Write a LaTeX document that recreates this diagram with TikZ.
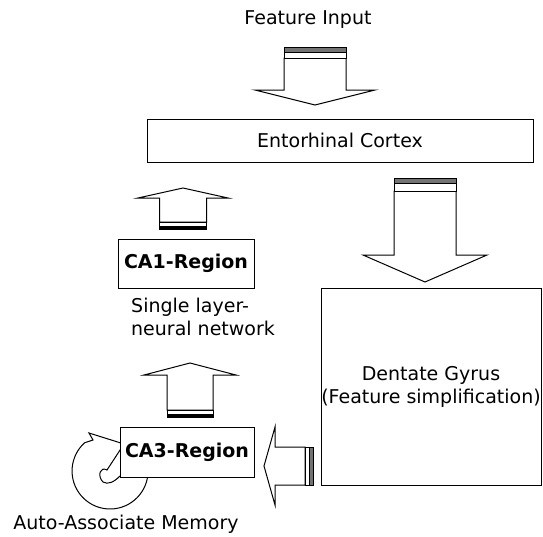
\documentclass[tikz,border=0pt]{standalone}
\usepackage{fontspec}
\setmainfont{DejaVu Sans}
\usetikzlibrary{calc}
\definecolor{bargray}{rgb}{0.45,0.45,0.45}

\tikzset{
  blockline/.style={line width=1pt,line join=miter},
  region/.style={draw,line width=0.8pt,fill=white,inner sep=0pt},
  label/.style={inner sep=0pt}
}

% tip, rotation, stem half width, head half width, head length, stem length, white band, bar, bar colour
\newcommand{\fatarrow}[9]{%
  \begin{scope}[shift={#1},rotate=#2]
    \draw[blockline,fill=white] (0,0) -- (-#5,#4) -- (-#5,#3) -- (-#5-#6,#3) -- (-#5-#6,-#3) -- (-#5,-#3) -- (-#5,-#4) -- cycle;
    \draw[blockline,fill=white] (-#5-#6,-#3) rectangle (-#5-#6-#7,#3);
    \draw[blockline,fill=#9] (-#5-#6-#7,-#3) rectangle (-#5-#6-#7-#8,#3);
  \end{scope}}

\begin{document}
\begin{tikzpicture}[x=1pt,y=-1pt,font=\fontsize{19}{23}\selectfont]
  \path[use as bounding box,fill=white] (0,0) rectangle (543,536);

  % boxes
  \node[label] (input) at (308,20) {Feature Input};
  \node[region,minimum width=386,minimum height=43] (ec) at (340,140.5) {Entorhinal Cortex};
  \node[region,minimum width=220,minimum height=197,align=center] (dg) at (431,386.5)
    {Dentate Gyrus\\(Feature simplification)};
  \node[region,minimum width=136,minimum height=49,font=\fontsize{19}{23}\selectfont\bfseries] (ca1) at (186,263.5) {CA1-Region};
  \node[label,anchor=north west,align=left] (note) at (131,298) {Single layer-\\neural network};

  % recurrent loop round CA3
  \draw[blockline,fill=white] (147.9,474.3) arc[start angle=5,end angle=228,radius=38]
    -- (93,440) -- (89,433) -- (124,444) -- (107,470)
    .. controls (100,466) and (97,476) .. (103,482)
    .. controls (108,485) and (114,482) .. (120,476) -- (130,466) -- cycle;
  \node[region,minimum width=134,minimum height=50,font=\fontsize{19}{23}\selectfont\bfseries] (ca3) at (187,452) {CA3-Region};
  \node[label] (memory) at (126,524) {Auto-Associate Memory};

  % block arrows
  \fatarrow{(315,105)}{-90}{31}{60}{15}{32}{6}{5}{bargray}
  \fatarrow{(425,282)}{-90}{31}{62}{27}{64}{8}{5}{bargray}
  \fatarrow{(183,188)}{90}{23.5}{45}{10}{24}{4}{3}{black}
  \fatarrow{(190,363)}{90}{23}{46}{12}{35}{4}{3}{black}
  \fatarrow{(264,466)}{180}{19}{39}{11}{30}{4}{4}{bargray}
\end{tikzpicture}
\end{document}
